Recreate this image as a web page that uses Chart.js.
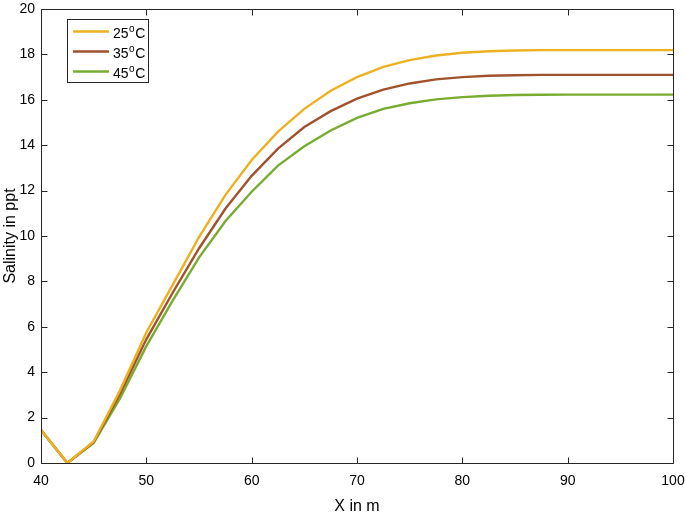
<!DOCTYPE html>
<html>
<head>
<meta charset="utf-8">
<script src="https://cdn.jsdelivr.net/npm/chart.js@4.4.0/dist/chart.umd.min.js"></script>
<style>
html,body{margin:0;padding:0;background:#fff;}
#wrap{width:685px;height:516px;position:relative;}
</style>
</head>
<body>
<div id="wrap"><canvas id="c" width="685" height="516"></canvas></div>
<script>
const xValues = [40,42.5,45,47.5,50,52.5,55,57.5,60,62.5,65,67.5,70,72.5,75,77.5,80,82.5,85,87.5,90,92.5,95,97.5,100];
const temp25 = [1.45,0,0.95,3.2,5.75,7.85,9.95,11.8,13.35,14.6,15.6,16.4,17.0,17.45,17.75,17.95,18.07,18.14,18.17,18.19,18.19,18.19,18.19,18.19,18.19];
const temp35 = [1.45,0,0.92,3.05,5.45,7.5,9.45,11.2,12.65,13.85,14.8,15.5,16.05,16.45,16.72,16.9,17.0,17.06,17.08,17.1,17.1,17.1,17.1,17.1,17.1];
const temp45 = [1.45,0,0.88,2.85,5.15,7.15,9.05,10.65,11.95,13.1,13.95,14.65,15.2,15.6,15.85,16.02,16.12,16.18,16.21,16.22,16.23,16.23,16.23,16.23,16.23];
const seriesNames = ["25","35","45"];
const xTicks = [40,50,60,70,80,90,100];
const yTicks = [0,2,4,6,8,10,12,14,16,18,20];

const colors = ["#EDB120","#A0522D","#77AC30"];
const FONT = "'Liberation Sans', Arial, sans-serif";

function mk(data, i){
  return {label: seriesNames[i]+"°C", data: xValues.map((x,k)=>({x:x,y:data[k]})),
    borderColor: colors[i], backgroundColor: colors[i], borderWidth: 2.4, pointRadius: 0, tension: 0, fill:false};
}

const boxPlugin = {
  id:'boxPlugin',
  afterDraw(chart){
    const ctx = chart.ctx, a = chart.chartArea, xs = chart.scales.x, ys = chart.scales.y;
    ctx.save();
    ctx.strokeStyle = '#262626'; ctx.lineWidth = 1;
    const L = Math.round(a.left)+0.5, R = Math.round(a.right)+0.5, T = Math.round(a.top)+0.5, B = Math.round(a.bottom)+0.5;
    ctx.beginPath(); ctx.rect(L, T, R-L, B-T); ctx.stroke();
    const tl = 6;
    ctx.beginPath();
    xTicks.forEach(v=>{ const p = Math.round(xs.getPixelForValue(v))+0.5;
      ctx.moveTo(p,B); ctx.lineTo(p,B-tl); ctx.moveTo(p,T); ctx.lineTo(p,T+tl); });
    yTicks.forEach(v=>{ const p = Math.round(ys.getPixelForValue(v))+0.5;
      ctx.moveTo(L,p); ctx.lineTo(L+tl,p); ctx.moveTo(R,p); ctx.lineTo(R-tl,p); });
    ctx.stroke();
    // legend
    const lx = 67.5, ly = 19.5, lw = 81, lh = 63;
    ctx.fillStyle = '#fff'; ctx.fillRect(lx, ly, lw, lh);
    ctx.strokeStyle = '#262626'; ctx.strokeRect(lx, ly, lw, lh);
    const rows = [31.5, 51.5, 71.5];
    rows.forEach((yy,i)=>{
      ctx.strokeStyle = colors[i]; ctx.lineWidth = 2.4;
      ctx.beginPath(); ctx.moveTo(73, yy); ctx.lineTo(109, yy); ctx.stroke();
      ctx.fillStyle = '#000'; ctx.textBaseline = 'alphabetic'; ctx.textAlign='left';
      ctx.font = "14px " + FONT;
      const base = yy + 6;
      ctx.fillText(seriesNames[i], 113, base);
      let w = ctx.measureText(seriesNames[i]).width;
      ctx.font = "10px " + FONT;
      ctx.fillText("o", 113 + w + 0.5, base - 6);
      let w2 = ctx.measureText("o").width;
      ctx.font = "14px " + FONT;
      ctx.fillText("C", 113 + w + w2 + 1, base);
    });
    ctx.restore();
  }
};

new Chart(document.getElementById('c'), {
  type:'line',
  data:{ datasets:[mk(temp25,0), mk(temp35,1), mk(temp45,2)] },
  options:{
    responsive:false, animation:false, devicePixelRatio:1,
    layout:{padding:{left:0,right:12,top:9,bottom:0}},
    plugins:{legend:{display:false}, tooltip:{enabled:false}},
    scales:{
      x:{ type:'linear', min:40, max:100,
        afterBuildTicks(s){ s.ticks = xTicks.map(v=>({value:v})); },
        afterFit(s){ s.height = 53; s.paddingLeft = 0; s.paddingRight = 0; },
        grid:{display:false, drawTicks:false}, border:{display:false},
        ticks:{ color:'#000', padding:10, maxRotation:0, font:{family:FONT, size:14}, callback:v=>String(v) },
        title:{display:true, text:'X in m', color:'#000', font:{family:FONT, size:16}, padding:{top:4,bottom:0}}
      },
      y:{ type:'linear', min:0, max:20,
        afterBuildTicks(s){ s.ticks = yTicks.map(v=>({value:v})); },
        afterFit(s){ s.width = 41; s.paddingTop = 0; s.paddingBottom = 0; },
        grid:{display:false, drawTicks:false}, border:{display:false},
        ticks:{ color:'#000', padding:6, font:{family:FONT, size:14}, callback:v=>String(v) },
        title:{display:true, text:'Salinity in ppt', color:'#000', font:{family:FONT, size:16}, padding:{top:1,bottom:0}}
      }
    }
  },
  plugins:[boxPlugin]
});
</script>
</body>
</html>
